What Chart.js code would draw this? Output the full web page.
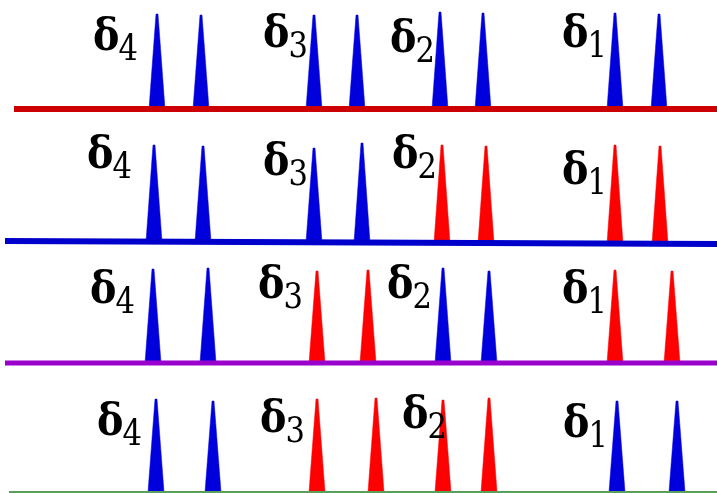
<!DOCTYPE html>
<html>
<head>
<meta charset="utf-8">
<script src="https://cdn.jsdelivr.net/npm/chart.js@4.4.0/dist/chart.umd.min.js"></script>
<style>
  html, body { margin: 0; padding: 0; background: #fff; }
  #wrap { width: 717px; height: 493px; }
</style>
</head>
<body>
<div id="wrap"><canvas id="spikes"></canvas></div>
<script>
// spike positions per row (x of peak centre) and peak heights (y of tip)
const row1Peaks = [157, 201, 314, 357, 440, 483, 615, 659];
const row1Tops  = [14, 15, 15, 15, 12, 13, 13, 14];
const row1Kinds = ['b', 'b', 'b', 'b', 'b', 'b', 'b', 'b'];

const row2Peaks = [154, 203, 314, 362, 442, 486, 615, 660];
const row2Tops  = [145, 146, 148, 143, 145, 146, 145, 146];
const row2Kinds = ['b', 'b', 'b', 'b', 'r', 'r', 'r', 'r'];

const row3Peaks = [153, 208, 317, 368, 443, 489, 615, 672];
const row3Tops  = [269, 268, 271, 270, 268, 271, 270, 271];
const row3Kinds = ['b', 'b', 'r', 'r', 'b', 'b', 'r', 'r'];

const row4Peaks = [156, 213, 317, 376, 443, 489, 617, 677];
const row4Tops  = [399, 401, 399, 398, 400, 398, 401, 401];
const row4Kinds = ['b', 'b', 'r', 'r', 'r', 'r', 'b', 'b'];

// baselines: [xStart, yStart, xEnd, yEnd]
const baseline1 = [14, 109, 717, 109];
const baseline2 = [5, 241, 717, 244];
const baseline3 = [5, 363, 717, 363];
const baseline4 = [9, 492, 717, 492];

// labels: subscript index, x, y of delta baseline
const labelIdx = [4, 3, 2, 1];
const row1Labels = [[93, 50], [263, 47], [390, 52], [562, 47]];
const row2Labels = [[87, 168], [263, 175], [392, 168], [562, 184]];
const row3Labels = [[90, 303], [258, 298], [387, 298], [562, 303]];
const row4Labels = [[97, 435], [260, 432], [402, 428], [563, 437]];

const colors = { b: '#0000dd', r: '#ff0000' };
const lineColors = ['#cc0000', '#0000cc', '#9900cc', '#5a9f5a'];
const lineWidths = [6, 6, 5, 2];
const deltaFont = 'bold 44px "DejaVu Serif", serif';
const digitFont = '36px "DejaVu Serif", serif';

const rows = [
  { peaks: row1Peaks, tops: row1Tops, kinds: row1Kinds, base: baseline1, labels: row1Labels },
  { peaks: row2Peaks, tops: row2Tops, kinds: row2Kinds, base: baseline2, labels: row2Labels },
  { peaks: row3Peaks, tops: row3Tops, kinds: row3Kinds, base: baseline3, labels: row3Labels },
  { peaks: row4Peaks, tops: row4Tops, kinds: row4Kinds, base: baseline4, labels: row4Labels }
];

const halfBase = 8, halfTip = 1;

function baseAt(b, x) {
  return b[1] + (b[3] - b[1]) * (x - b[0]) / (b[2] - b[0]);
}

const datasets = [];
rows.forEach((row, i) => {
  const b = row.base;
  datasets.push({
    data: [{ x: b[0], y: b[1] }, { x: b[2], y: b[3] }],
    borderColor: lineColors[i],
    borderWidth: lineWidths[i],
    pointRadius: 0,
    fill: false
  });
});
rows.forEach(row => {
  row.peaks.forEach((c, j) => {
    const y0 = baseAt(row.base, c);
    const col = colors[row.kinds[j]];
    datasets.push({
      data: [
        { x: c - halfBase, y: y0 },
        { x: c - halfTip, y: row.tops[j] },
        { x: c + halfTip, y: row.tops[j] },
        { x: c + halfBase, y: y0 }
      ],
      borderColor: col,
      backgroundColor: col,
      borderWidth: 0.5,
      pointRadius: 0,
      fill: { value: y0 }
    });
  });
});

// δ glyph squeezed a little so it keeps the narrow Times-like width
const deltaLabels = {
  id: 'deltaLabels',
  afterDatasetsDraw(chart) {
    const ctx = chart.ctx;
    const xs = chart.scales.x, ys = chart.scales.y;
    ctx.save();
    ctx.fillStyle = '#000';
    ctx.textBaseline = 'alphabetic';
    ctx.textAlign = 'left';
    rows.forEach(row => {
      row.labels.forEach((p, k) => {
        const px = xs.getPixelForValue(p[0]);
        const py = ys.getPixelForValue(p[1]);
        ctx.font = deltaFont;
        const w = ctx.measureText('δ').width * 0.9;
        ctx.save();
        ctx.translate(px, py);
        ctx.scale(0.9, 1);
        ctx.fillText('δ', 0, 0);
        ctx.restore();
        ctx.font = digitFont;
        ctx.save();
        ctx.translate(px + w - 1, py + 10);
        ctx.scale(0.85, 1);
        ctx.fillText(String(labelIdx[k]), 0, 0);
        ctx.restore();
      });
    });
    ctx.restore();
  }
};

new Chart(document.getElementById('spikes'), {
  type: 'scatter',
  data: { datasets },
  options: {
    responsive: true,
    maintainAspectRatio: false,
    animation: false,
    showLine: true,
    layout: { padding: 0 },
    elements: { line: { tension: 0 } },
    scales: {
      x: { type: 'linear', min: 0, max: 717, display: false },
      y: { type: 'linear', min: 0, max: 493, reverse: true, display: false }
    },
    plugins: { legend: { display: false }, tooltip: { enabled: false } }
  },
  plugins: [deltaLabels]
});
</script>
</body>
</html>
